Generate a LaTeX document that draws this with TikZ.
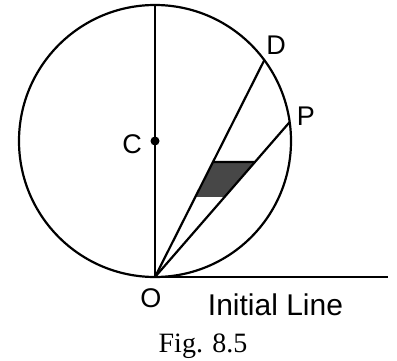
\documentclass[tikz,border=0pt]{standalone}
\usepackage{fontspec}
\setmainfont{Liberation Serif}
\setsansfont{Liberation Sans}
\usetikzlibrary{calc}
\tikzset{
  curve/.style={line width=2.2pt},
  lbl/.style={font=\sffamily\fontsize{27}{27}\selectfont, inner sep=0pt},
}
\begin{document}
\begin{tikzpicture}[x=1pt,y=1pt]
	\useasboundingbox (0,0) rectangle (397,360);
	\coordinate (O) at (155,83);
	\coordinate (C) at (155,219);
	\coordinate (T) at (155,355);
	\coordinate (D) at ($(C)+(36.5:136)$);
	\coordinate (P) at ($(C)+(8:136)$);
	\coordinate (E) at (388,83);
	% strip between the two radii
	\coordinate (a1) at (0,163);
	\coordinate (a2) at (397,163);
	\coordinate (b1) at (0,198);
	\coordinate (b2) at (397,198);
	\fill[black!72] (intersection of O--D and a1--a2) -- (intersection of O--P and a1--a2)
		-- (intersection of O--P and b1--b2) -- (intersection of O--D and b1--b2) -- cycle;
	\draw[curve] (intersection of O--D and b1--b2) -- (intersection of O--P and b1--b2);
	\draw[curve] (C) circle (136);
	\draw[curve] (O) -- (T);
	\draw[curve] (O) -- (D);
	\draw[curve] (O) -- (P);
	\draw[curve] (O) -- (E);
	\fill (C) circle (4.5);
	\node[lbl] (lc) at (132,216) {C};
	\node[lbl] (ld) at (276,315) {D};
	\node[lbl] (lp) at (306,244) {P};
	\node[lbl] (lo) at (151,62) {O};
	\node[lbl, font=\sffamily\fontsize{30}{30}\selectfont] (li) at (275.5,55) {Initial Line};
	\node[inner sep=0pt, anchor=base, font=\fontsize{28}{28}\selectfont] (fig) at (203,8) {Fig. 8.5};
\end{tikzpicture}
\end{document}
